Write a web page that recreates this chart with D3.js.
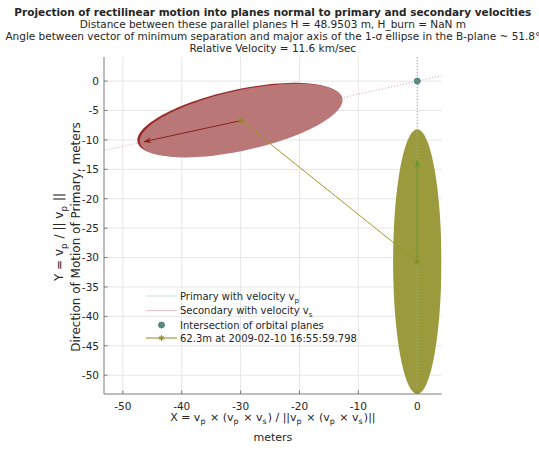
<!DOCTYPE html>
<html><head><meta charset="utf-8">
<script src="https://cdn.jsdelivr.net/npm/d3@7/dist/d3.min.js"></script>
<style>body{margin:0;background:#fff}svg{display:block}text{font-family:"DejaVu Sans",sans-serif;fill:#262626}</style>
</head><body><svg id="c" width="539" height="450"></svg>
<script>
// ---- data ----
const xTicks = [-50, -40, -30, -20, -10, 0];
const yTicks = [0, -5, -10, -15, -20, -25, -30, -35, -40, -45, -50];
const xDomain = [-53.2, 4.15];
const yDomain = [-53.2, 4.1];
const intersection = [0, 0];
const primaryCenter = [0, -30.7];
const primaryAxes = [22.5, 4.1];      // semi-major, semi-minor
const primaryAngle = 90;              // degrees
const primaryArrowTip = [0, -13.5];
const primaryLine = [[0, 4.1], [0, -53.2]];
const secondaryCenter = [-29.9, -6.7];
const secondaryAxes = [17.6, 5.1];
const secondaryAngle = 12.5;
const secondaryArrowTip = [-46.4, -10.3];
const secondaryLine = [[-53.2, -11.8], [4.15, 0.92]];
const missLine = [secondaryCenter, primaryCenter];
const titleLines = [
  "Projection of rectilinear motion into planes normal to primary and secondary velocities",
  "Distance between these parallel planes H = 48.9503 m, H_burn = NaN m",
  "Angle between vector of minimum separation and major axis of the 1-\u03C3 ellipse in the B-plane ~ 51.8\u00B0",
  "Relative Velocity = 11.6 km/sec"
];
const legendLabels = ["Primary with velocity v|p", "Secondary with velocity v|s", "Intersection of orbital planes", "62.3m at 2009-02-10 16:55:59.798"];

// ---- layout ----
const svg = d3.select("#c");
const L = 104, R = 441.7, T = 57, B = 394;
const x = d3.scaleLinear().domain(xDomain).range([L, R]);
const y = d3.scaleLinear().domain(yDomain).range([B, T]);

// grid
const g = svg.append("g");
g.selectAll(".gx").data(xTicks).join("line").attr("x1", d => x(d)).attr("x2", d => x(d))
  .attr("y1", T).attr("y2", B).attr("stroke", "#e6e6e6").attr("stroke-width", 1);
g.selectAll(".gy").data(yTicks).join("line").attr("y1", d => y(d)).attr("y2", d => y(d))
  .attr("x1", L).attr("x2", R).attr("stroke", "#e6e6e6").attr("stroke-width", 1);

const defs = svg.append("defs");
defs.append("clipPath").attr("id", "clip").append("rect").attr("x", L).attr("y", T).attr("width", R - L).attr("height", B - T);
const plot = svg.append("g").attr("clip-path", "url(#clip)");

function ellipsePts(c, ax, angDeg) {
  const a = angDeg * Math.PI / 180, pts = [];
  for (let i = 0; i <= 120; i++) {
    const t = i / 120 * 2 * Math.PI;
    const u = ax[0] * Math.cos(t), v = ax[1] * Math.sin(t);
    pts.push([c[0] + u * Math.cos(a) - v * Math.sin(a), c[1] + u * Math.sin(a) + v * Math.cos(a)]);
  }
  return pts;
}
const line = d3.line().x(d => x(d[0])).y(d => y(d[1]));

// dotted lines
plot.append("path").attr("d", line(secondaryLine)).attr("fill", "none").attr("stroke", "#d9a0a8").attr("stroke-width", 1).attr("stroke-dasharray", "1,2");
// secondary ellipse with rim
const secPts = ellipsePts(secondaryCenter, secondaryAxes, secondaryAngle);
plot.append("path").attr("d", line(secPts) + "Z").attr("fill", "#9a2a2a").attr("transform", "translate(-2.5,-0.8)");
plot.append("path").attr("d", line(secPts) + "Z").attr("fill", "#b97777");
// primary ellipse
plot.append("path").attr("d", line(ellipsePts(primaryCenter, primaryAxes, primaryAngle)) + "Z").attr("fill", "#9b9a3d");
plot.append("path").attr("d", line(primaryLine)).attr("fill", "none").attr("stroke", "#8fb8a8").attr("stroke-width", 1).attr("stroke-dasharray", "1,2");

// arrows
function arrow(from, to, color) {
  const x1 = x(from[0]), y1 = y(from[1]), x2 = x(to[0]), y2 = y(to[1]);
  plot.append("line").attr("x1", x1).attr("y1", y1).attr("x2", x2).attr("y2", y2).attr("stroke", color).attr("stroke-width", 1);
  const ang = Math.atan2(y2 - y1, x2 - x1), len = 7, w = 0.35;
  const p = [[x2, y2], [x2 - len * Math.cos(ang - w), y2 - len * Math.sin(ang - w)], [x2 - len * 0.6 * Math.cos(ang), y2 - len * 0.6 * Math.sin(ang)], [x2 - len * Math.cos(ang + w), y2 - len * Math.sin(ang + w)]];
  plot.append("path").attr("d", "M" + p.join("L") + "Z").attr("fill", color).attr("stroke", color).attr("stroke-width", 0.5);
}
arrow(secondaryCenter, secondaryArrowTip, "#8c1f1f");
arrow(primaryCenter, primaryArrowTip, "#5f9a2a");

// miss line
plot.append("path").attr("d", line(missLine)).attr("fill", "none").attr("stroke", "#9a9a2a").attr("stroke-width", 1);
function star(cx, cy, color, sz) {
  const s = svg.append("g").attr("transform", `translate(${cx},${cy})`).attr("stroke", color).attr("stroke-width", 1);
  s.append("line").attr("x1", -sz).attr("x2", sz);
  s.append("line").attr("y1", -sz).attr("y2", sz);
  s.append("line").attr("x1", -sz * 0.7).attr("y1", -sz * 0.7).attr("x2", sz * 0.7).attr("y2", sz * 0.7);
  s.append("line").attr("x1", -sz * 0.7).attr("y1", sz * 0.7).attr("x2", sz * 0.7).attr("y2", -sz * 0.7);
}
missLine.forEach(d => star(x(d[0]), y(d[1]), "#8c8c1c", 3));

// intersection point
svg.append("circle").attr("cx", x(intersection[0])).attr("cy", y(intersection[1])).attr("r", 3).attr("fill", "#5e8a80").attr("stroke", "#3f7a78").attr("stroke-width", 0.8);

// axes
const axc = "#7a7a7a";
svg.append("line").attr("x1", L).attr("x2", L).attr("y1", T).attr("y2", B).attr("stroke", axc);
svg.append("line").attr("x1", L).attr("x2", R).attr("y1", B).attr("y2", B).attr("stroke", axc);
svg.selectAll(".tx").data(xTicks).join("line").attr("x1", d => x(d)).attr("x2", d => x(d)).attr("y1", B).attr("y2", B - 3.5).attr("stroke", axc);
svg.selectAll(".ty").data(yTicks).join("line").attr("y1", d => y(d)).attr("y2", d => y(d)).attr("x1", L).attr("x2", L + 3.5).attr("stroke", axc);
svg.selectAll(".lx").data(xTicks).join("text").attr("x", d => x(d)).attr("y", 410).attr("text-anchor", "middle").attr("font-size", 10.5).text(d => d);
svg.selectAll(".ly").data(yTicks).join("text").attr("x", 99).attr("y", d => y(d) + 3.8).attr("text-anchor", "end").attr("font-size", 10.5).text(d => d);

function rich(sel, parts, fs) {
  parts.forEach(p => {
    if (typeof p === "string") sel.append("tspan").text(p);
    else { sel.append("tspan").attr("dy", fs * 0.3).attr("font-size", fs * 0.72).text(p.sub); sel.append("tspan").attr("dy", -fs * 0.3).text("\u200A"); }
  });
}
const cx = (L + R) / 2;
// x label
const xl = svg.append("text").attr("x", cx).attr("y", 421).attr("text-anchor", "middle").attr("font-size", 11);
rich(xl, ["X = v", {sub: "p"}, " \u00D7 (v", {sub: "p"}, " \u00D7 v", {sub: "s"}, ") / ||v", {sub: "p"}, " \u00D7 (v", {sub: "p"}, " \u00D7 v", {sub: "s"}, ")||"], 11);
svg.append("text").attr("x", cx).attr("y", 441).attr("text-anchor", "middle").attr("font-size", 11).text("meters");
// y label
const ylc = 237;
const yl = svg.append("text").attr("transform", `translate(63,${ylc}) rotate(-90)`).attr("text-anchor", "middle").attr("font-size", 12);
rich(yl, ["Y = v", {sub: "p"}, " / || v", {sub: "p"}, " ||"], 12);
svg.append("text").attr("transform", `translate(80,${ylc}) rotate(-90)`).attr("text-anchor", "middle").attr("font-size", 12).text("Direction of Motion of Primary, meters");

// title
titleLines.forEach((t, i) => {
  svg.append("text").attr("x", cx).attr("y", 16 + i * 12).attr("text-anchor", "middle").attr("font-size", 10.5)
    .attr("font-weight", i === 0 ? "bold" : "normal").attr("fill", "#000").text(t);
});

// legend
const lg = svg.append("g");
const ly0 = 296, ldy = 14.5, lx1 = 146, lx2 = 177, ltx = 180;
const legendStyles = [
  {type: "line", color: "#b9dcc8"},
  {type: "line", color: "#e6b8bc"},
  {type: "dot"},
  {type: "star", color: "#8c8c1c"}
];
legendLabels.forEach((lab, i) => {
  const yy = ly0 + i * ldy - (i === 3 ? 1.5 : 0);
  const st = legendStyles[i];
  if (st.type === "line" || st.type === "star") lg.append("line").attr("x1", lx1).attr("x2", lx2).attr("y1", yy).attr("y2", yy).attr("stroke", st.color).attr("stroke-width", st.type === "star" ? 1 : 0.8);
  if (st.type === "star") star((lx1 + lx2) / 2, yy, st.color, 3);
  if (st.type === "dot") lg.append("circle").attr("cx", (lx1 + lx2) / 2).attr("cy", yy).attr("r", 3).attr("fill", "#5e8a80").attr("stroke", "#3f7a78").attr("stroke-width", 0.8);
  const t = lg.append("text").attr("x", ltx).attr("y", yy + 3.5).attr("font-size", 10);
  const [a, b] = lab.split("|");
  if (b !== undefined) rich(t, [a, {sub: b}], 10); else t.text(a);
});
</script></body></html>
